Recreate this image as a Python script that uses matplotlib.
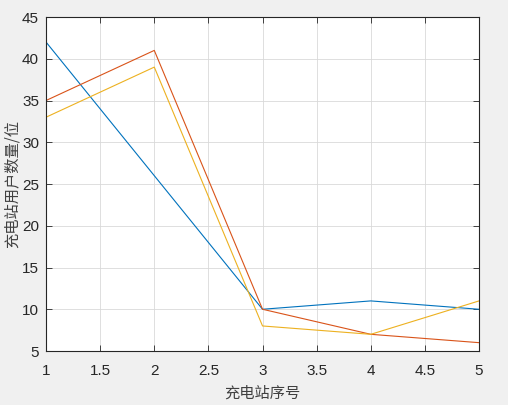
import matplotlib
matplotlib.use("Agg")
import matplotlib.pyplot as plt

# station index and user counts for three scenarios
stations = [1, 2, 3, 4, 5]
users_a = [42, 26, 10, 11, 10]
users_b = [35, 41, 10, 7, 6]
users_c = [33, 39, 8, 7, 11]

xticks = [1, 1.5, 2, 2.5, 3, 3.5, 4, 4.5, 5]
yticks = [5, 10, 15, 20, 25, 30, 35, 40, 45]

plt.rcParams['font.family'] = ['Liberation Sans', 'DejaVu Sans']
cjk = ['Noto Sans CJK SC', 'DejaVu Sans']
dark = '#262626'

fig = plt.figure(figsize=(5.08, 4.05), dpi=100)
fig.patch.set_facecolor('#f0f0f0')
ax = fig.add_axes([0.0906, 0.1333, 0.8524, 0.8247])
ax.set_facecolor('white')

ax.plot(stations, users_a, color='#0072BD', linewidth=0.8)
ax.plot(stations, users_b, color='#D95319', linewidth=0.8)
ax.plot(stations, users_c, color='#EDB120', linewidth=0.8)

ax.set_xlim(1, 5)
ax.set_ylim(5, 45)
ax.set_xticks(xticks)
ax.set_xticklabels(['1', '1.5', '2', '2.5', '3', '3.5', '4', '4.5', '5'])
ax.set_yticks(yticks)
ax.grid(True, color='#d9d9d9', linewidth=0.6)
ax.set_axisbelow(True)

ax.tick_params(direction='in', length=4, width=0.6, colors=dark,
               labelsize=11, top=True, right=True, pad=5)
ax.tick_params(axis='x', pad=9)
for s in ax.spines.values():
    s.set_color(dark)
    s.set_linewidth(0.8)

ax.set_xlabel('充电站序号', family=cjk, fontsize=11, color='#404040', labelpad=5)
ax.set_ylabel('充电站用户数量/位', family=cjk, fontsize=11, color='#404040')
ax.yaxis.set_label_coords(-0.058, 0.5)

fig.savefig('out.png', dpi=100, facecolor=fig.get_facecolor())
